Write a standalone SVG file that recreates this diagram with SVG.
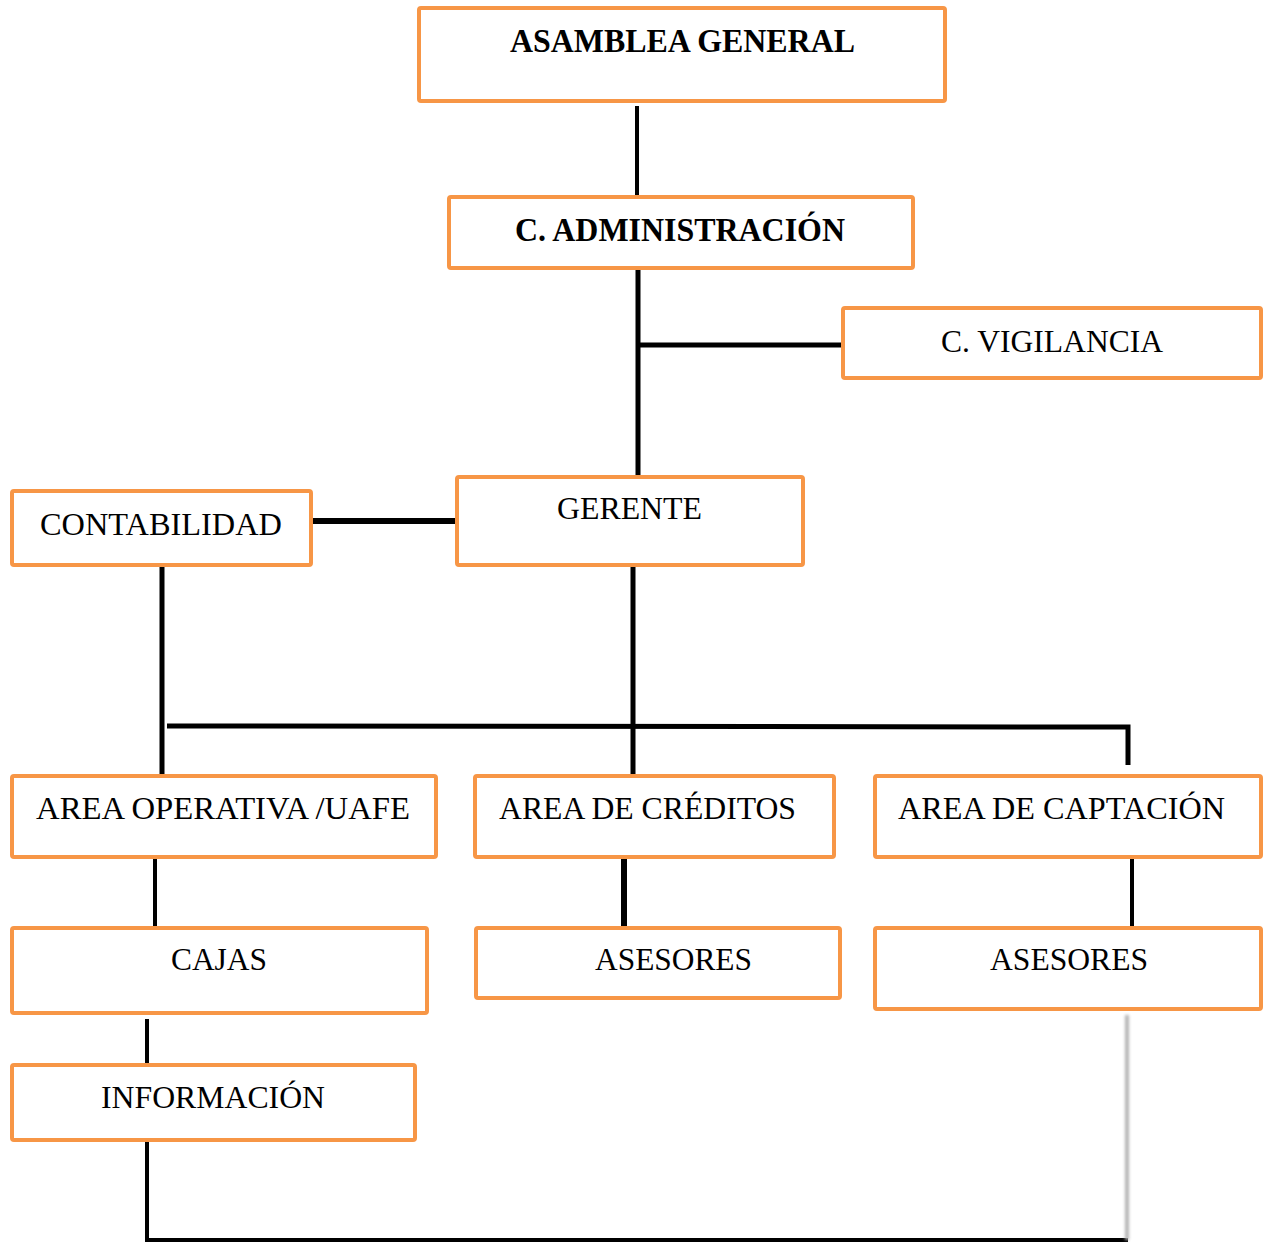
<svg xmlns="http://www.w3.org/2000/svg" width="1263" height="1243" viewBox="0 0 1263 1243">
<style>
.box{fill:#fff;stroke:#F79646;stroke-width:4;}
.t{font-family:"Liberation Serif","Times New Roman",serif;font-size:31px;fill:#000;}
.b{font-weight:bold;font-size:34px;}
.c{stroke:#000;fill:none;stroke-linecap:butt;}
</style>
<defs>
<filter id="blur" filterUnits="userSpaceOnUse" x="1110" y="1000" width="40" height="250"><feGaussianBlur stdDeviation="1.4"/></filter>
</defs>
<rect width="1263" height="1243" fill="#fff"/>
<g id="connectors">
<line class="c" x1="637" y1="106" x2="637" y2="197" stroke-width="4"/>
<line class="c" x1="638" y1="268" x2="638" y2="476" stroke-width="5"/>
<line class="c" x1="640" y1="345" x2="843" y2="345" stroke-width="5"/>
<line class="c" x1="305" y1="521" x2="457" y2="521" stroke-width="6"/>
<line class="c" x1="633" y1="565" x2="633" y2="775" stroke-width="5"/>
<line class="c" x1="162" y1="565" x2="162" y2="775" stroke-width="5"/>
<polyline class="c" points="167,726 1128,727 1128,765" stroke-width="5"/>
<line class="c" x1="155" y1="857" x2="155" y2="927" stroke-width="4"/>
<line class="c" x1="624" y1="851" x2="624" y2="927" stroke-width="6"/>
<line class="c" x1="1132" y1="857" x2="1132" y2="927" stroke-width="4"/>
<line class="c" x1="147" y1="1019" x2="147" y2="1064" stroke-width="4"/>
<polyline class="c" points="147,1140 147,1240 1128,1240" stroke-width="4"/>
<rect x="1125" y="1015" width="4" height="225" fill="#b4b4b4" filter="url(#blur)"/>
</g>
<g id="asamblea"><rect class="box" x="419" y="8" width="526" height="93" rx="2"/><text class="t b" x="510" y="52" textLength="345" lengthAdjust="spacingAndGlyphs">ASAMBLEA GENERAL</text></g>
<g id="administracion"><rect class="box" x="449" y="197" width="464" height="71" rx="2"/><text class="t b" x="515" y="241" textLength="330" lengthAdjust="spacingAndGlyphs">C. ADMINISTRACIÓN</text></g>
<g id="vigilancia"><rect class="box" x="843" y="308" width="418" height="70" rx="2"/><text class="t" x="941" y="352" textLength="222" lengthAdjust="spacingAndGlyphs">C. VIGILANCIA</text></g>
<g id="gerente"><rect class="box" x="457" y="477" width="346" height="88" rx="2"/><text class="t" x="557" y="519" textLength="145" lengthAdjust="spacingAndGlyphs">GERENTE</text></g>
<g id="contabilidad"><rect class="box" x="12" y="491" width="299" height="74" rx="2"/><text class="t" x="40" y="535" textLength="242" lengthAdjust="spacingAndGlyphs">CONTABILIDAD</text></g>
<g id="operativa"><rect class="box" x="12" y="776" width="424" height="81" rx="2"/><text class="t" x="36" y="819" textLength="374" lengthAdjust="spacingAndGlyphs">AREA OPERATIVA /UAFE</text></g>
<g id="creditos"><rect class="box" x="475" y="776" width="359" height="81" rx="2"/><text class="t" x="499" y="819" textLength="297" lengthAdjust="spacingAndGlyphs">AREA DE CRÉDITOS</text></g>
<g id="captacion"><rect class="box" x="875" y="776" width="386" height="81" rx="2"/><text class="t" x="898" y="819" textLength="327" lengthAdjust="spacingAndGlyphs">AREA DE CAPTACIÓN</text></g>
<g id="cajas"><rect class="box" x="12" y="928" width="415" height="85" rx="2"/><text class="t" x="171" y="970" textLength="96" lengthAdjust="spacingAndGlyphs">CAJAS</text></g>
<g id="asesores1"><rect class="box" x="476" y="928" width="364" height="70" rx="2"/><text class="t" x="595" y="970" textLength="157" lengthAdjust="spacingAndGlyphs">ASESORES</text></g>
<g id="asesores2"><rect class="box" x="875" y="928" width="386" height="81" rx="2"/><text class="t" x="990" y="970" textLength="158" lengthAdjust="spacingAndGlyphs">ASESORES</text></g>
<g id="informacion"><rect class="box" x="12" y="1065" width="403" height="75" rx="2"/><text class="t" x="101" y="1108" textLength="224" lengthAdjust="spacingAndGlyphs">INFORMACIÓN</text></g>
</svg>
